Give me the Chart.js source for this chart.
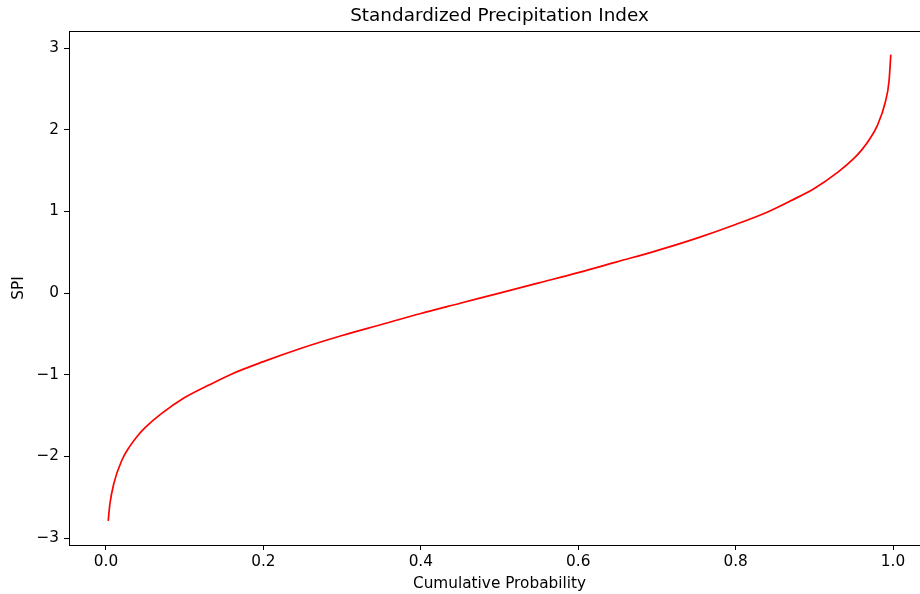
<!DOCTYPE html>
<html lang="en">
<head>
  <meta charset="UTF-8">
  <title>Standardized Precipitation Index</title>
  <style>
    html, body {
      margin: 0;
      padding: 0;
      background: #fff;
      overflow: hidden;
    }
    #wrap {
      position: absolute;
      left: 0;
      top: 0;
      width: 942px;
      height: 594px;
    }
  </style>
  <script src="https://cdn.jsdelivr.net/npm/chart.js"></script>
</head>
<body>
  <div id="wrap"><canvas id="chart" width="942" height="594"></canvas></div>

  <script>
    // values
    const probability = [
      0.0028, 0.005, 0.01, 0.02, 0.03, 0.04, 0.05, 0.07, 0.10, 0.13,
      0.16, 0.20, 0.25, 0.30, 0.35, 0.40, 0.45, 0.50, 0.55, 0.60,
      0.65, 0.70, 0.75, 0.80, 0.84, 0.87, 0.90, 0.93, 0.95, 0.96,
      0.97, 0.98, 0.99, 0.995, 0.9972
    ];
    const spi = [
      -2.79, -2.58, -2.33, -2.05, -1.88, -1.75, -1.645, -1.48, -1.28, -1.13,
      -0.99, -0.84, -0.67, -0.52, -0.385, -0.25, -0.125, 0.0, 0.125, 0.25,
      0.385, 0.52, 0.67, 0.84, 0.99, 1.13, 1.28, 1.48, 1.645, 1.75,
      1.88, 2.05, 2.33, 2.6, 2.92
    ];
    const xTicks = [0.0, 0.2, 0.4, 0.6, 0.8, 1.0];
    const yTicks = [-3, -2, -1, 0, 1, 2, 3];

    const FONT = 'DejaVu Sans';

    function minus(v) {
      return v < 0 ? '\u2212' + Math.abs(v) : String(v);
    }

    // matplotlib style frame round the plot area
    const framePlugin = {
      id: 'frame',
      afterDraw(chart) {
        const a = chart.chartArea;
        const ctx = chart.ctx;
        ctx.save();
        ctx.strokeStyle = '#000';
        ctx.lineWidth = 1;
        ctx.strokeRect(Math.round(a.left) + 0.5, Math.round(a.top) + 0.5,
          Math.round(a.right - a.left), Math.round(a.bottom - a.top));
        ctx.restore();
      }
    };

    new Chart(document.getElementById('chart').getContext('2d'), {
      type: 'line',
      data: {
        datasets: [{
          data: probability.map((p, i) => ({ x: p, y: spi[i] })),
          borderColor: '#ff0000',
          borderWidth: 1.7,
          pointRadius: 0,
          fill: false,
          cubicInterpolationMode: 'monotone'
        }]
      },
      options: {
        responsive: false,
        animation: false,
        layout: { padding: { left: 0, right: 12, top: 0, bottom: 0 } },
        plugins: {
          legend: { display: false },
          tooltip: { enabled: false },
          title: {
            display: true,
            fullSize: false,
            text: 'Standardized Precipitation Index',
            color: '#000',
            font: { family: FONT, size: 18.4, weight: 'normal' },
            padding: { top: 5, bottom: 4 }
          }
        },
        scales: {
          x: {
            type: 'linear',
            min: -0.047,
            max: 1.047,
            afterBuildTicks: s => { s.ticks = xTicks.map(v => ({ value: v })); },
            afterFit: s => { s.height = 49; },
            grid: { drawOnChartArea: false, drawTicks: true, tickLength: 5, color: '#000' },
            border: { display: false },
            ticks: {
              color: '#000',
              padding: 3,
              maxRotation: 0,
              font: { family: FONT, size: 15.3 },
              callback: v => v.toFixed(1)
            },
            title: {
              display: true,
              text: 'Cumulative Probability',
              color: '#000',
              font: { family: FONT, size: 15.3 },
              padding: { top: 0, bottom: 1 }
            }
          },
          y: {
            type: 'linear',
            min: -3.085,
            max: 3.208,
            afterBuildTicks: s => { s.ticks = yTicks.map(v => ({ value: v })); },
            afterFit: s => { s.width = 69; },
            grid: { drawOnChartArea: false, drawTicks: true, tickLength: 5, color: '#000' },
            border: { display: false },
            ticks: {
              color: '#000',
              padding: 5,
              font: { family: FONT, size: 15.3 },
              callback: v => minus(v)
            },
            title: {
              display: true,
              text: 'SPI',
              color: '#000',
              font: { family: FONT, size: 15.3 },
              padding: { top: 10, bottom: 0 }
            }
          }
        }
      },
      plugins: [framePlugin]
    });
  </script>
</body>
</html>
